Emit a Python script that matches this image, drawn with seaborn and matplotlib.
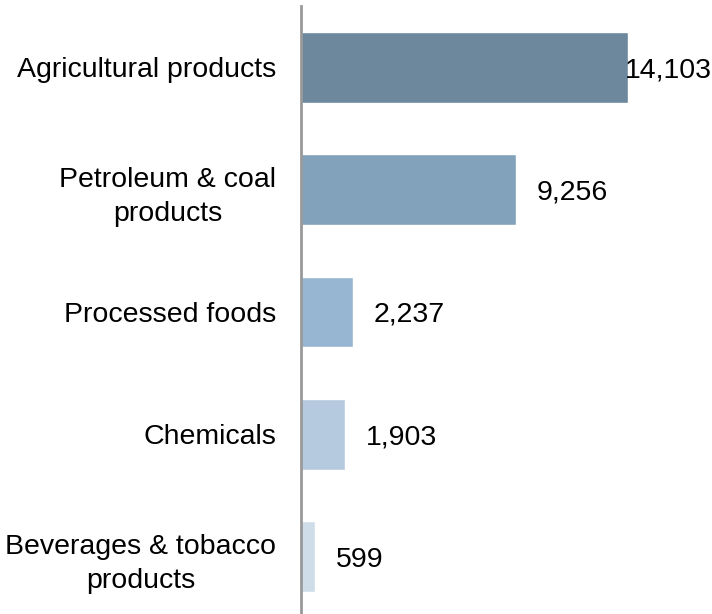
import seaborn as sns
from matplotlib import pyplot as plt
import pandas as pd

sns.set_theme(style="white")
plt.rcParams['font.family'] = ['Liberation Sans', 'DejaVu Sans']

categories = [
    "Agricultural products",
    "Petroleum & coal\nproducts",
    "Processed foods",
    "Chemicals",
    "Beverages & tobacco\nproducts",
]
values = [14103, 9256, 2237, 1903, 599]
bar_colors = ["#6D889C", "#81A2BA", "#97B6D2", "#B5CADE", "#CFDDE9"]

df = pd.DataFrame({"category": categories, "value": values})

fig = plt.figure(figsize=(7.12, 6.14), dpi=100)
ax = fig.add_axes([301 / 712, -4 / 614, 411 / 712, 612 / 614])

sns.barplot(data=df, x="value", y="category", hue="category",
            palette=bar_colors, width=0.58, orient="h", legend=False,
            saturation=1, ax=ax)

x_max = 17720
ax.set_xlim(0, x_max)
ax.set_ylim(4.5, -0.5)

fs = 20.5
for i, v in enumerate(values):
    txt = f"{v:,}"
    if v > x_max * 0.75:
        ax.text(x_max, i, txt, ha="right", va="center_baseline", fontsize=fs, color="black")
    else:
        ax.annotate(txt, (v, i), xytext=(15, 0), textcoords="offset points",
                    ha="left", va="center_baseline", fontsize=fs, color="black")

ax.set_xlabel("")
ax.set_ylabel("")
ax.set_xticks([])
ax.tick_params(axis="y", length=0, pad=18, labelsize=fs, labelcolor="black")
for lbl in ax.get_yticklabels():
    lbl.set_multialignment("center")
    lbl.set_linespacing(1.4)

for side in ["top", "right", "bottom"]:
    ax.spines[side].set_visible(False)
ax.spines["left"].set_color("#999999")
ax.spines["left"].set_linewidth(2)

fig.savefig("out.png", dpi=100)
